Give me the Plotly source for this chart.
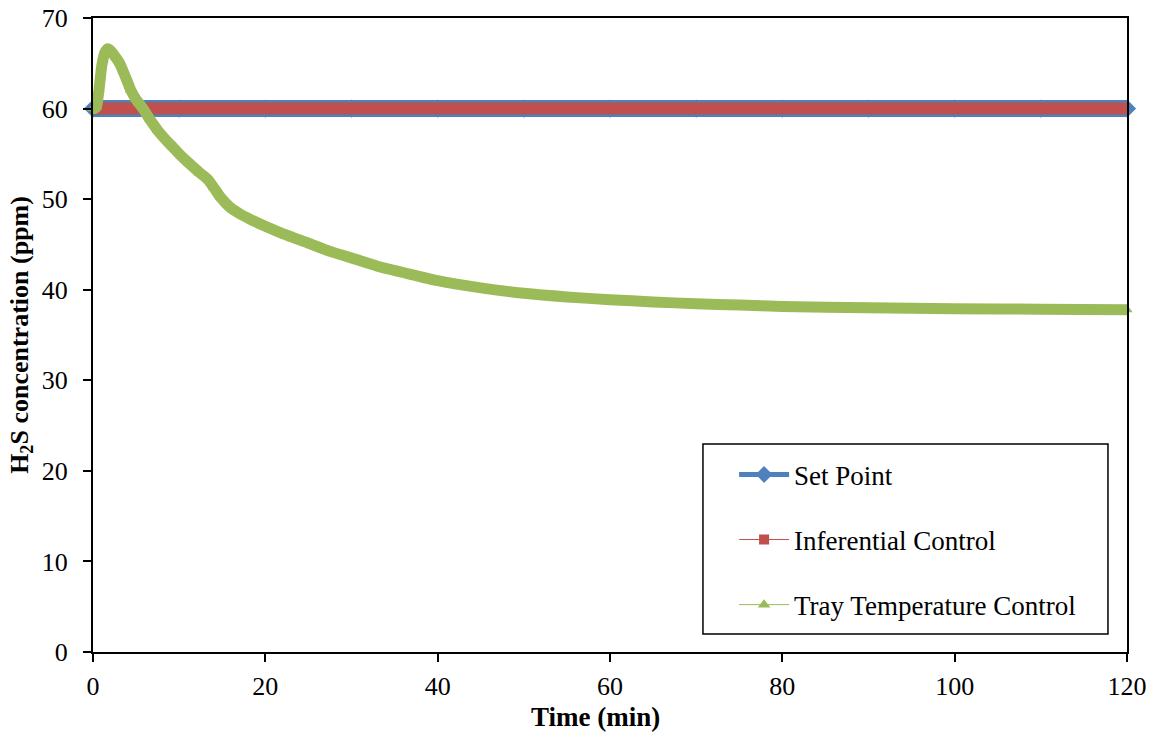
import plotly.graph_objects as go

# ---- data -------------------------------------------------------------
time_sp = [0, 10, 20, 30, 40, 50, 60, 70, 80, 90, 100, 110, 120]
set_point = [60, 60, 60, 60, 60, 60, 60, 60, 60, 60, 60, 60, 60]

time_inf = [0, 5, 10, 13, 15, 20, 30, 40, 50, 60, 70, 80, 90, 100, 110, 120]
inferential = [60.0, 60.0, 60.0, 59.9, 59.9, 60.0, 60.0, 60.0, 60.0, 60.0,
               60.0, 60.0, 60.0, 60.0, 60.0, 60.0]

time_tray = [0, 0.2, 0.4, 0.55, 0.7, 0.85, 1.0, 1.15, 1.3, 1.5, 1.7, 1.9,
             2.2, 2.6, 3.1, 3.5, 3.9, 4.4, 5.0, 5.8, 6.6, 7.5, 8.4, 9.3,
             10.2, 11.1, 12.4, 13.3, 14.0, 14.8, 15.9, 17.0, 18.2, 20.0,
             22.0, 24.0, 27.0, 30.0, 33.0, 36.0, 40.0, 45, 50, 55, 60, 65,
             70, 75, 80, 90, 100, 110, 120]
tray = [60.0, 60.0, 60.2, 61.0, 62.1, 63.4, 64.6, 65.4, 66.0, 66.4, 66.6,
        66.5, 66.2, 65.7, 65.0, 64.1, 63.2, 62.0, 61.0, 60.0, 58.8, 57.6,
        56.6, 55.7, 54.8, 54.0, 52.9, 52.2, 51.3, 50.2, 49.1, 48.4, 47.8,
        47.0, 46.2, 45.5, 44.4, 43.5, 42.6, 41.9, 41.0, 40.2, 39.6, 39.2,
        38.9, 38.65, 38.45, 38.3, 38.15, 38.0, 37.9, 37.85, 37.8]

x_ticks = [0, 20, 40, 60, 80, 100, 120]
y_ticks = [0, 10, 20, 30, 40, 50, 60, 70]

BLUE = "#4F81BD"
RED = "#C0504D"
GREEN = "#9BBB59"
FONT = "Times New Roman, Liberation Serif, serif"

fig = go.Figure()

# plotted series (thick bands)
fig.add_trace(go.Scatter(
    x=time_sp, y=set_point, mode="lines+markers", showlegend=False,
    line=dict(color=BLUE, width=17),
    marker=dict(symbol="diamond", size=14, color=BLUE),
    cliponaxis=False, hoverinfo="skip"))
fig.add_trace(go.Scatter(
    x=time_inf, y=inferential, mode="lines", showlegend=False,
    line=dict(color=RED, width=12), cliponaxis=False, hoverinfo="skip"))
fig.add_trace(go.Scatter(
    x=time_tray, y=tray, mode="lines+markers", showlegend=False,
    line=dict(color=GREEN, width=11, shape="spline", smoothing=0.6),
    marker=dict(symbol="triangle-up", size=10, color=GREEN),
    cliponaxis=False, hoverinfo="skip"))

# legend entries
fig.add_trace(go.Scatter(
    x=[None], y=[None], mode="lines+markers", name="Set Point",
    legendgroup="a", line=dict(color=BLUE, width=5),
    marker=dict(symbol="diamond", size=13, color=BLUE)))
fig.add_trace(go.Scatter(
    x=[None], y=[None], mode="lines+markers", name="Inferential Control",
    legendgroup="b", line=dict(color=RED, width=1),
    marker=dict(symbol="square", size=10, color=RED)))
fig.add_trace(go.Scatter(
    x=[None], y=[None], mode="lines+markers", name="Tray Temperature Control",
    legendgroup="c", line=dict(color=GREEN, width=1),
    marker=dict(symbol="triangle-up", size=11, color=GREEN)))

axis_common = dict(
    showgrid=False, zeroline=False, showline=True, linecolor="black",
    linewidth=2, mirror=True, ticks="outside", ticklen=8, tickwidth=1.5,
    tickcolor="black", automargin=False,
    tickfont=dict(family=FONT, size=26, color="black"),
)

fig.update_xaxes(range=[0, 120], tickvals=x_ticks, ticklabelstandoff=2,
                 **axis_common)
fig.update_yaxes(
    range=[0, 70], tickvals=y_ticks, ticklabelstandoff=10,
    title=dict(text="<b>H<sub>2</sub>S concentration (ppm)</b>", standoff=6,
               font=dict(family=FONT, size=26, color="black")),
    **axis_common)

# x-axis title
fig.add_annotation(text="<b>Time (min)</b>", xref="paper", yref="paper",
                   x=0.4855, y=-0.103, xanchor="center", yanchor="middle",
                   showarrow=False,
                   font=dict(family=FONT, size=27, color="black"))

# legend frame
fig.add_shape(type="rect", xref="paper", yref="paper",
              x0=0.5899, x1=0.9816, y0=0.0284, y1=0.328,
              line=dict(color="black", width=1.5), fillcolor="rgba(0,0,0,0)")

fig.update_layout(
    width=1155, height=733,
    margin=dict(l=93, r=28, t=18, b=81),
    paper_bgcolor="white", plot_bgcolor="white",
    font=dict(family=FONT, size=26, color="black"),
    legend=dict(x=0.62, y=0.318, xanchor="left", yanchor="top",
                bgcolor="rgba(0,0,0,0)", borderwidth=0,
                font=dict(family=FONT, size=27, color="black"),
                tracegroupgap=27, itemwidth=50, traceorder="grouped"),
)

fig.write_html("out.html")
